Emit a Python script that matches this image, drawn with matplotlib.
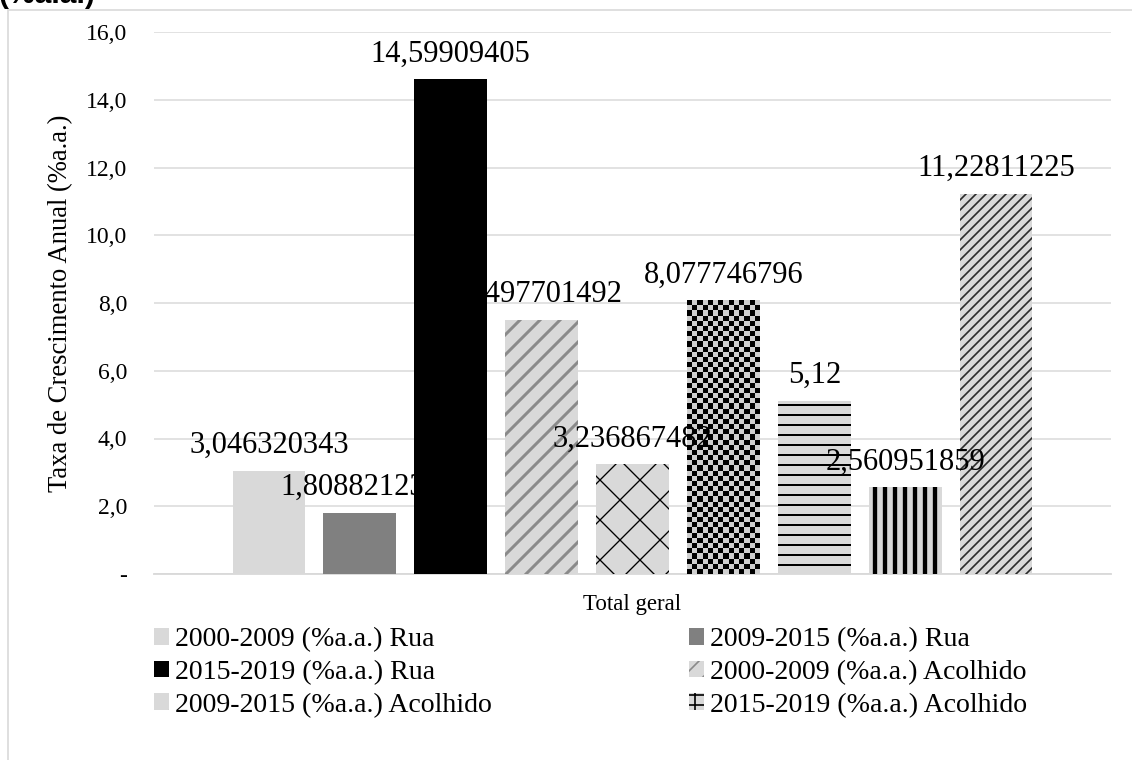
import matplotlib
matplotlib.use("Agg")
import matplotlib.pyplot as plt
import numpy as np
from matplotlib.patches import Patch, Rectangle

# --- data -------------------------------------------------------------
series_names = [
    "2000-2009 (%a.a.) Rua",
    "2009-2015 (%a.a.) Rua",
    "2015-2019 (%a.a.) Rua",
    "2000-2009 (%a.a.) Acolhido",
    "2009-2015 (%a.a.) Acolhido",
    "2015-2019 (%a.a.) Acolhido",
    "2000-2009 (%a.a.) Total",
    "2009-2015 (%a.a.) Total",
    "2015-2019 (%a.a.) Total",
]
values = [3.046320343, 1.808821233, 14.59909405, 7.497701492, 3.236867482,
          8.077746796, 5.12, 2.560951859, 11.22811225]
category = "Total geral"
y_ticks = [0, 2, 4, 6, 8, 10, 12, 14, 16]
y_title = "Taxa de Crescimento Anual (%a.a.)"
chart_title = "(%a.a.)"

# --- styling ------------------------------------------------------------
SERIF = "Liberation Serif"
LIGHT = "#d9d9d9"
styles = [
    dict(fc=LIGHT, hatch=None, hc=LIGHT, hlw=1.0),
    dict(fc="#808080", hatch=None, hc="#808080", hlw=1.0),
    dict(fc="#000000", hatch=None, hc="#000000", hlw=1.0),
    dict(fc=LIGHT, hatch="//", hc="#8a8a8a", hlw=1.8),
    dict(fc=LIGHT, hatch="x", hc="#000000", hlw=0.8),
    dict(fc=LIGHT, hatch="checker", hc="#000000", hlw=1.0),
    dict(fc=LIGHT, hatch="--", hc="#000000", hlw=1.2),
    dict(fc=LIGHT, hatch="||", hc="#000000", hlw=2.6),
    dict(fc=LIGHT, hatch="////", hc="#2a2a2a", hlw=1.0),
]

W, H, DPI = 1132, 760, 120
fig = plt.figure(figsize=(W / DPI, H / DPI), dpi=DPI)
fig.patch.set_facecolor("white")

# outer chart border (continues past the right/bottom edge)
fig.add_artist(Rectangle((8 / W, -0.1), 1.2, 1 - 10 / H + 0.1,
                         transform=fig.transFigure, fill=False,
                         edgecolor=LIGHT, linewidth=1.0))

fig.text(-2 / W, 1 - 3 / H, chart_title, fontfamily="Liberation Sans",
         fontweight="bold", fontsize=18, ha="left", va="baseline")

ax = fig.add_axes([154 / W, 1 - 574 / H, 957 / W, 542 / H])
n = len(values)
x = np.arange(n)
bar_w = 0.8
ax.set_xlim(-1.265, n - 1 + 1.265)
ax.set_ylim(0, 16)

for s in ax.spines.values():
    s.set_visible(False)
ax.set_yticks(y_ticks)
ax.set_yticklabels(["-" if v == 0 else f"{v:.1f}".replace(".", ",") for v in y_ticks],
                   fontfamily=SERIF, fontsize=14.2)
ax.tick_params(axis="y", length=0, pad=16)
ax.set_xticks([(n - 1) / 2])
ax.set_xticklabels([category], fontfamily=SERIF, fontsize=13.7)
ax.tick_params(axis="x", length=0, pad=12)
ax.yaxis.grid(True, color=LIGHT, linewidth=0.9)
ax.set_axisbelow(True)
ax.axhline(0, color=LIGHT, linewidth=1.1, zorder=1, clip_on=False)

ax.set_ylabel(y_title, fontfamily=SERIF, fontsize=16)
ax.yaxis.label.set_va("center")
ax.yaxis.set_label_coords((61 - 154) / 957, 0.5)

bars = []
for i, (v, st) in enumerate(zip(values, styles)):
    hatch = st["hatch"] if st["hatch"] not in (None, "checker") else None
    b = ax.bar(x[i], v, width=bar_w, color=st["fc"], edgecolor=st["hc"],
               linewidth=0, hatch=hatch, zorder=2)[0]
    if hatch and hasattr(b, "set_hatch_linewidth"):
        b.set_hatch_linewidth(st["hlw"])
    bars.append(b)

# small checkerboard fill
for i, st in enumerate(styles):
    if st["hatch"] != "checker":
        continue
    b = bars[i]
    x0, x1 = b.get_x(), b.get_x() + b.get_width()
    h = b.get_height()
    p0 = ax.transData.transform((x0, 0))
    p1 = ax.transData.transform((x1, h))
    cell = 5.2
    nx = max(1, int(round((p1[0] - p0[0]) / cell)))
    ny = max(1, int(round((p1[1] - p0[1]) / cell)))
    board = (np.add.outer(np.arange(ny), np.arange(nx)) % 2).astype(float)
    cmap = matplotlib.colors.ListedColormap(["#000000", "#cfcfcf"])
    im = ax.imshow(board, extent=(x0, x1, 0, h), cmap=cmap, interpolation="nearest",
                   aspect="auto", origin="lower", zorder=2.5)
    im.set_clip_path(b)
ax.set_xlim(-1.265, n - 1 + 1.265)
ax.set_ylim(0, 16)

# value labels (comma decimal, 10 significant digits)
for i, v in enumerate(values):
    txt = f"{v:.10g}".replace(".", ",")
    ax.annotate(txt, (x[i], v), xytext=(0, 6.5), textcoords="offset points",
                ha="center", va="bottom", fontfamily=SERIF, fontsize=18.3,
                zorder=5, annotation_clip=False)

# legend: first six series in two columns
handles = []
for st in styles[:6]:
    if st["hatch"] == "checker":
        handles.append(Patch(facecolor=LIGHT, edgecolor="#000000", hatch="++", linewidth=0))
    else:
        handles.append(Patch(facecolor=st["fc"], edgecolor=st["hc"], hatch=st["hatch"], linewidth=0))

leg_kw = dict(frameon=False, fontsize=16.7, handlelength=0.55, handleheight=0.55,
              handletextpad=0.2, labelspacing=0.28, borderpad=0, borderaxespad=0,
              loc="upper left")
col_x = [154 / W, 689 / W]
for c in range(2):
    idx = [c, c + 2, c + 4]
    lg = fig.legend([handles[j] for j in idx], [series_names[j] for j in idx],
                    bbox_to_anchor=(col_x[c], 1 - 627 / H), **leg_kw)
    for t in lg.get_texts():
        t.set_fontfamily(SERIF)

fig.savefig("out.png", dpi=DPI, facecolor="white")
